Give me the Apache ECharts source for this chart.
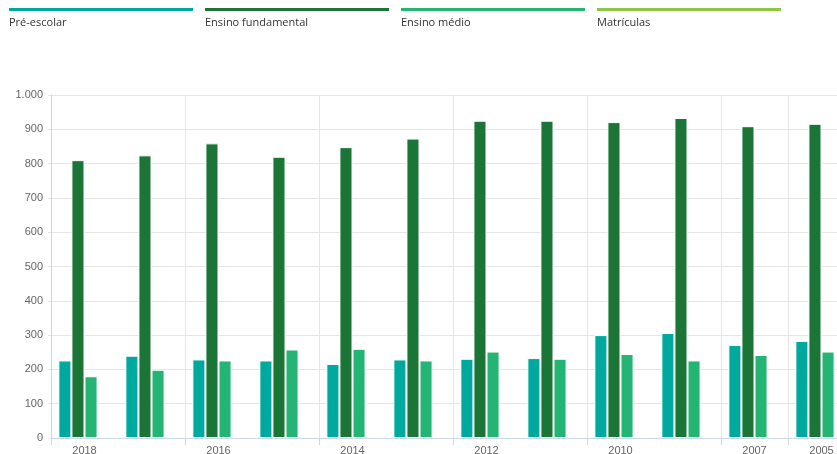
<!DOCTYPE html>
<html>
<head>
<meta charset="utf-8">
<script src="https://cdn.jsdelivr.net/npm/echarts@6/dist/echarts.min.js"></script>
<style>
html,body{margin:0;padding:0;background:#fff;}
#chart{width:837px;height:454px;}
</style>
</head>
<body>
<div id="chart"></div>
<script>
const categories = ['2018','2017','2016','2015','2014','2013','2012','2011','2010','2009','2007','2005'];
const shownIdx = [0,2,4,6,8,10,11];
const seriesNames = ['Pré-escolar','Ensino fundamental','Ensino médio','Matrículas'];
const seriesColors = ['#00a99d','#1a7537','#24b473','#8dc63f'];
const preEscolar = [226,240,229,226,216,229,231,233,300,306,271,283];
const fundamental = [810,824,859,820,848,873,925,925,921,933,909,916];
const medio = [180,199,226,258,260,226,252,231,245,226,242,252];
const matriculas = [null,null,null,null,null,null,null,null,null,null,null,null];
const yTicks = [0,100,200,300,400,500,600,700,800,900,1000];

const seriesData = [preEscolar, fundamental, medio, matriculas];
const chart = echarts.init(document.getElementById('chart'), null, {renderer:'canvas'});
const isShown = (i) => shownIdx.indexOf(i) >= 0;
const fmt = v => String(v).replace(/\B(?=(\d{3})+(?!\d))/g, '.');

const graphics = [];
seriesNames.forEach((n, i) => {
  const x0 = 9 + i * 196;
  graphics.push({type:'rect', left: x0, top: 8, shape:{width:184, height:3}, style:{fill: seriesColors[i]}, silent:true});
  graphics.push({type:'text', left: x0, top: 17, style:{text:n, fill:'#333', font:'11px "Open Sans"'}, silent:true});
});

chart.setOption({
  animation:false,
  grid:{left:51, width:804, top:95, bottom:16, containLabel:false, outerBoundsMode:'none'},
  graphic: graphics,
  xAxis:{
    type:'category', data:categories, boundaryGap:true,
    axisLine:{show:true, lineStyle:{color:'#ccd6eb', width:1}},
    axisTick:{show:true, length:7, interval:(i)=>isShown(i), lineStyle:{color:'#ccd6eb'}},
    axisLabel:{interval:(i)=>isShown(i), color:'#666', fontSize:11, fontFamily:'"Liberation Sans", Arial', margin:7},
    splitLine:{show:true, interval:(i)=>isShown(i), lineStyle:{color:'#e6e6e6'}}
  },
  yAxis:{
    type:'value', min:yTicks[0], max:yTicks[yTicks.length-1], interval:100,
    axisLine:{show:true, lineStyle:{color:'#ccd6eb'}},
    axisTick:{show:true, length:3, lineStyle:{color:'#e6e6e6'}},
    axisLabel:{formatter:fmt, color:'#666', fontSize:11, fontFamily:'"Liberation Sans", Arial', margin:8},
    splitLine:{show:true, lineStyle:{color:'#e6e6e6'}}
  },
  series: seriesNames.map((n,i)=>({
    name:n, type:'bar', data:seriesData[i],
    barGap:'0%', barCategoryGap:'22%',
    itemStyle:{color:seriesColors[i], borderColor:'#fff', borderWidth:1}
  }))
});
</script>
</body>
</html>
